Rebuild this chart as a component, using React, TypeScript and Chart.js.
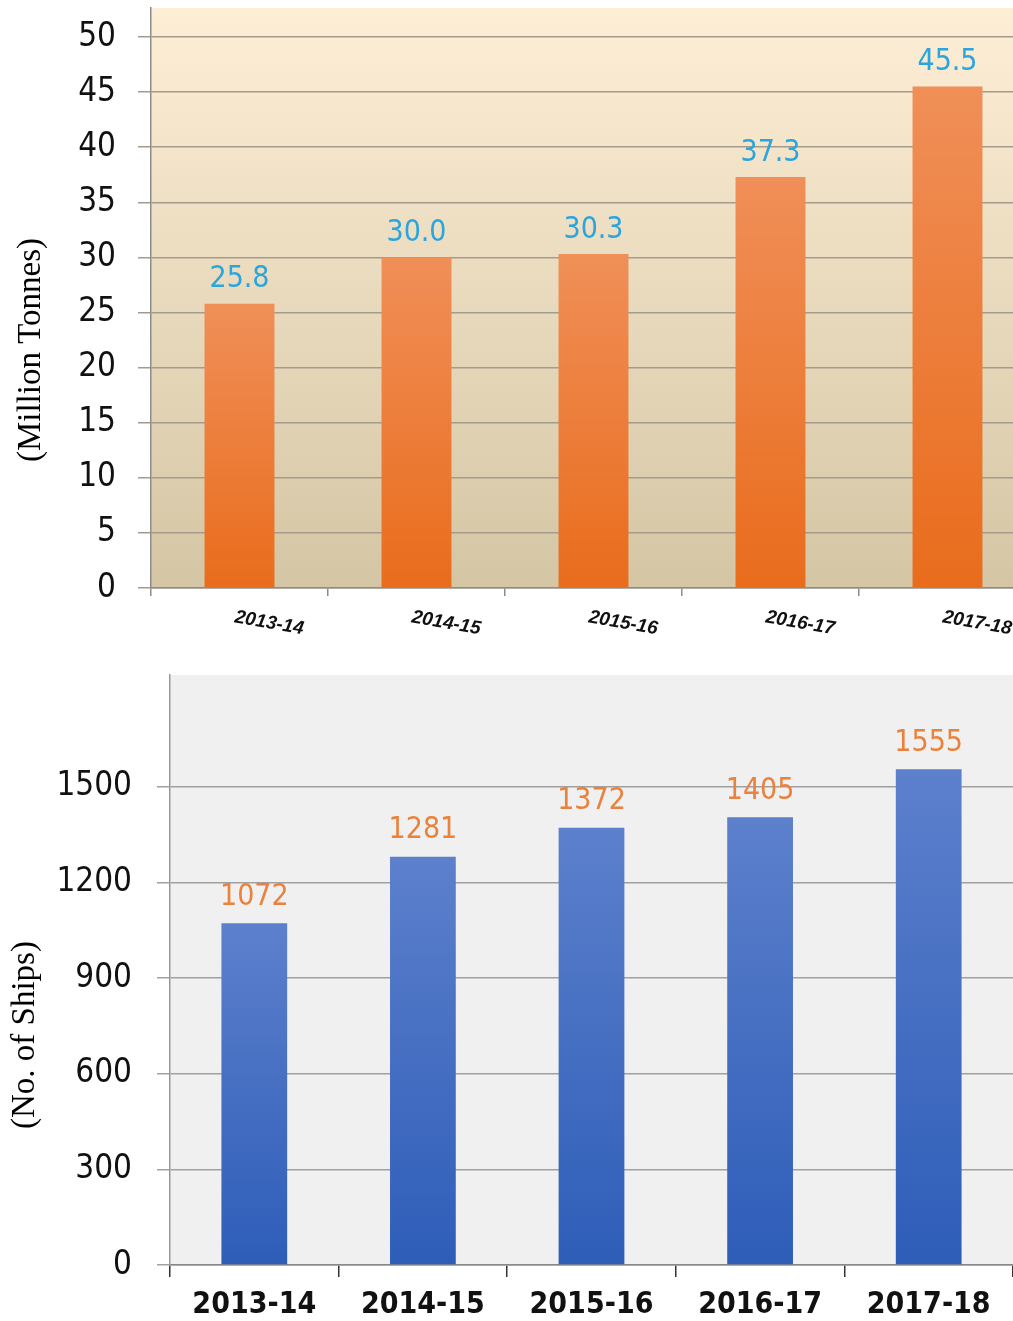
import React, { useEffect, useRef } from 'react';
import { Chart, registerables } from 'chart.js';

Chart.register(...registerables);

const years = ['2013-14', '2014-15', '2015-16', '2016-17', '2017-18'];
const cargoValues = [25.8, 30.0, 30.3, 37.3, 45.5];
const shipValues = [1072, 1281, 1372, 1405, 1555];
const cargoTicks = [0, 5, 10, 15, 20, 25, 30, 35, 40, 45, 50];
const shipTicks = [0, 300, 600, 900, 1200, 1500];
const cargoTitle = '(Million Tonnes)';
const shipTitle = '(No. of Ships)';

const NARROW = '"Liberation Sans Narrow", "DejaVu Sans Condensed", "Roboto Condensed", sans-serif';

const areaBgPlugin = {
  id: 'areaBg',
  beforeDraw(chart: any, _args: any, opts: any) {
    const { ctx, chartArea: a } = chart;
    const g = ctx.createLinearGradient(0, a.top, 0, a.bottom);
    g.addColorStop(0, opts.top);
    g.addColorStop(1, opts.bottom);
    ctx.save();
    ctx.fillStyle = g;
    ctx.fillRect(a.left, a.top, a.right - a.left, a.bottom - a.top);
    ctx.restore();
  },
};

const valueLabelPlugin = {
  id: 'valueLabels',
  afterDatasetsDraw(chart: any, _args: any, opts: any) {
    const ctx = chart.ctx;
    const meta = chart.getDatasetMeta(0);
    const data = chart.data.datasets[0].data;
    ctx.save();
    ctx.font = opts.font;
    ctx.fillStyle = opts.color;
    ctx.textAlign = 'center';
    ctx.textBaseline = 'middle';
    meta.data.forEach((el: any, i: number) => {
      ctx.fillText(opts.format(data[i]), el.x, el.y - opts.offset);
    });
    ctx.restore();
  },
};

const axisTitlePlugin = {
  id: 'axisTitle',
  afterDraw(chart: any, _args: any, opts: any) {
    const ctx = chart.ctx;
    const a = chart.chartArea;
    ctx.save();
    ctx.font = opts.font;
    ctx.fillStyle = '#000';
    ctx.textAlign = 'center';
    ctx.textBaseline = 'middle';
    ctx.translate(opts.x, (a.top + a.bottom) / 2 + opts.shift);
    ctx.rotate(-Math.PI / 2);
    ctx.fillText(opts.text, 0, 0);
    ctx.restore();
  },
};

function barGradient(top: string, bottom: string) {
  return (c: any) => {
    const chart = c.chart;
    const ys = chart.scales && chart.scales.y;
    if (!ys || !chart.chartArea || c.raw === undefined) return bottom;
    const y0 = ys.getPixelForValue(c.raw);
    const y1 = ys.getPixelForValue(0);
    const g = chart.ctx.createLinearGradient(0, y0, 0, y1);
    g.addColorStop(0, top);
    g.addColorStop(1, bottom);
    return g;
  };
}

function CargoChart() {
  const ref = useRef<HTMLCanvasElement>(null);
  useEffect(() => {
    const chart = new Chart(ref.current as HTMLCanvasElement, {
      type: 'bar',
      data: {
        labels: years,
        datasets: [
          {
            data: cargoValues,
            backgroundColor: barGradient('#F08F58', '#E96C1C'),
            categoryPercentage: 0.79,
            barPercentage: 0.5,
          },
        ],
      },
      options: {
        responsive: false,
        animation: false,
        layout: { padding: { top: 8, right: 4, left: 0, bottom: 0 } },
        plugins: {
          legend: { display: false },
          tooltip: { enabled: false },
          areaBg: { top: '#FDEED6', bottom: '#D4C6A4' },
          valueLabels: {
            font: '30px ' + NARROW,
            color: '#2AA5DD',
            offset: 24,
            format: (v: number) => v.toFixed(1),
          },
          axisTitle: {
            text: cargoTitle,
            font: '33px "Liberation Serif", serif',
            x: 31,
            shift: 52,
          },
        } as any,
        scales: {
          x: {
            grid: {
              display: true,
              drawOnChartArea: false,
              drawTicks: true,
              tickLength: 8,
              offset: true,
              color: '#8C8C8C',
              lineWidth: 1.5,
            },
            border: { display: true, color: '#8C8C8C', width: 1.5 },
            ticks: {
              minRotation: -10,
              maxRotation: -10,
              padding: 22,
              labelOffset: 64,
              color: '#111',
              font: { family: '"Liberation Sans", Arial, sans-serif', size: 19, style: 'italic', weight: 'bold' },
            },
            afterFit: (s: any) => {
              s.height = 62;
              s.paddingLeft = 0;
              s.paddingRight = 0;
            },
          },
          y: {
            min: 0,
            max: 52.63,
            afterBuildTicks: (s: any) => {
              s.ticks = cargoTicks.map((v) => ({ value: v }));
            },
            grid: {
              color: '#A39B8B',
              lineWidth: 1.5,
              tickLength: 13,
              drawTicks: true,
            },
            border: { display: true, color: '#8C8C8C', width: 1.5 },
            ticks: {
              padding: 22,
              color: '#111',
              font: { family: NARROW, size: 33 },
              callback: (v: any) => String(v),
            },
            afterFit: (s: any) => {
              s.width = 151;
              s.paddingTop = 0;
              s.paddingBottom = 0;
            },
          },
        },
      },
      plugins: [areaBgPlugin, valueLabelPlugin, axisTitlePlugin],
    });
    return () => chart.destroy();
  }, []);
  return <canvas ref={ref} width={1040} height={650} style={{ display: 'block' }} />;
}

function ShipChart() {
  const ref = useRef<HTMLCanvasElement>(null);
  useEffect(() => {
    const chart = new Chart(ref.current as HTMLCanvasElement, {
      type: 'bar',
      data: {
        labels: years,
        datasets: [
          {
            data: shipValues,
            backgroundColor: barGradient('#5C80CC', '#2E5DB8'),
            categoryPercentage: 0.78,
            barPercentage: 0.5,
          },
        ],
      },
      options: {
        responsive: false,
        animation: false,
        layout: { padding: { top: 25, right: 0, left: 0, bottom: 0 } },
        plugins: {
          legend: { display: false },
          tooltip: { enabled: false },
          areaBg: { top: '#F0F0F0', bottom: '#F0F0F0' },
          valueLabels: {
            font: '30px ' + NARROW,
            color: '#E9823C',
            offset: 26,
            format: (v: number) => String(v),
          },
          axisTitle: {
            text: shipTitle,
            font: '33px "Liberation Serif", serif',
            x: 25,
            shift: 65,
          },
        } as any,
        scales: {
          x: {
            grid: {
              display: true,
              drawOnChartArea: false,
              drawTicks: true,
              tickLength: 12,
              offset: true,
              color: '#333',
              lineWidth: 1.5,
            },
            border: { display: true, color: '#888', width: 1.5 },
            ticks: {
              padding: 10,
              color: '#111',
              font: { family: NARROW, size: 30, weight: 'bold' },
            },
            afterFit: (s: any) => {
              s.height = 56;
              s.paddingLeft = 0;
              s.paddingRight = 0;
            },
          },
          y: {
            min: 0,
            max: 1851,
            afterBuildTicks: (s: any) => {
              s.ticks = shipTicks.map((v) => ({ value: v }));
            },
            grid: {
              color: '#A0A0A0',
              lineWidth: 1.5,
              tickLength: 13,
              drawTicks: true,
            },
            border: { display: true, color: '#999', width: 1.5 },
            ticks: {
              padding: 25,
              color: '#111',
              font: { family: NARROW, size: 33 },
              callback: (v: any) => String(v),
            },
            afterFit: (s: any) => {
              s.width = 170;
              s.paddingTop = 0;
              s.paddingBottom = 0;
            },
          },
        },
      },
      plugins: [areaBgPlugin, valueLabelPlugin, axisTitlePlugin],
    });
    return () => chart.destroy();
  }, []);
  return <canvas ref={ref} width={1013} height={671} style={{ display: 'block' }} />;
}

export default function App() {
  return (
    <div style={{ position: 'absolute', left: 0, top: 0, width: 1013, height: 1321, overflow: 'hidden', background: '#fff' }}>
      <div style={{ position: 'absolute', left: 0, top: 0, width: 1013, height: 650, overflow: 'hidden' }}>
        <CargoChart />
      </div>
      <div style={{ position: 'absolute', left: 0, top: 650 }}>
        <ShipChart />
      </div>
    </div>
  );
}
